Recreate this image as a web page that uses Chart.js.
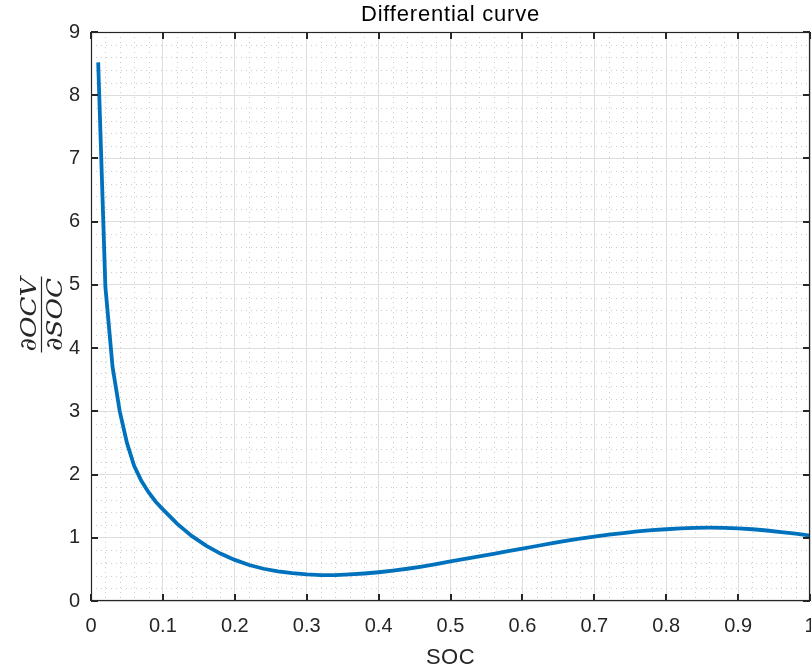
<!DOCTYPE html>
<html>
<head>
<meta charset="utf-8">
<title>Differential curve</title>
<script src="https://cdn.jsdelivr.net/npm/chart.js@4"></script>
<style>
    html, body { margin: 0; padding: 0; background: #fff; overflow: hidden; }
    #wrap { position: relative; width: 811px; height: 672px; }
    #diff-chart { display: block; }
</style>
</head>
<body>
<div id="wrap"><canvas id="diff-chart"></canvas></div>
<script>
// ================================================
// DIFFERENTIAL CURVE  dOCV/dSOC vs SOC
// ================================================

const socValues = [
    0.01, 0.02, 0.03, 0.04, 0.05, 0.06, 0.07, 0.08, 0.09, 0.10,
    0.12, 0.14, 0.16, 0.18, 0.20, 0.22, 0.24, 0.26, 0.28, 0.30,
    0.32, 0.34, 0.36, 0.38, 0.40, 0.42, 0.44, 0.46, 0.48, 0.50,
    0.52, 0.54, 0.56, 0.58, 0.60, 0.62, 0.64, 0.66, 0.68, 0.70,
    0.72, 0.74, 0.76, 0.78, 0.80, 0.82, 0.84, 0.86, 0.88, 0.90,
    0.92, 0.94, 0.96, 0.98, 1.00
];
const dOcvValues = [
    8.52, 4.97, 3.70, 3.00, 2.50, 2.14, 1.90, 1.72, 1.57, 1.45,
    1.22, 1.03, 0.875, 0.75, 0.65, 0.57, 0.51, 0.47, 0.44, 0.42,
    0.41, 0.41, 0.42, 0.435, 0.455, 0.48, 0.51, 0.545, 0.585, 0.625,
    0.665, 0.705, 0.745, 0.79, 0.83, 0.87, 0.91, 0.95, 0.985, 1.02,
    1.05, 1.075, 1.10, 1.12, 1.135, 1.15, 1.158, 1.16, 1.158, 1.15,
    1.135, 1.115, 1.09, 1.065, 1.035
];

const xTicks = { min: 0, max: 1, step: 0.1, minorPerMajor: 5 };
const yTicks = { min: 0, max: 9, step: 1, minorPerMajor: 5 };

const titleText = 'Differential curve';
const xLabelText = 'SOC';
const yLabelTop = '\u2202OCV';
const yLabelBottom = '\u2202SOC';

const AXIS_COLOR = '#262626';
const SANS = '"Liberation Sans", Arial, Helvetica, sans-serif';

/**
 * MATLAB-STYLE DECORATIONS (minor grid, box, inward ticks, labels)
 */
const matlabAxes = {
    id: 'matlabAxes',
    beforeDatasetsDraw(chart) {
        const { ctx, chartArea: a, scales } = chart;
        const xs = scales.x, ys = scales.y;
        ctx.save();
        ctx.strokeStyle = '#cccccc';
        ctx.lineWidth = 1;
        ctx.setLineDash([1, 4]);
        // minor vertical lines
        const nx = Math.round((xTicks.max - xTicks.min) / xTicks.step) * xTicks.minorPerMajor;
        for (let i = 1; i < nx; i++) {
            if (i % xTicks.minorPerMajor === 0) continue;
            const px = Math.round(xs.getPixelForValue(xTicks.min + i * xTicks.step / xTicks.minorPerMajor)) + 0.5;
            ctx.beginPath();
            ctx.moveTo(px, a.top);
            ctx.lineTo(px, a.bottom);
            ctx.stroke();
        }
        // minor horizontal lines
        const ny = Math.round((yTicks.max - yTicks.min) / yTicks.step) * yTicks.minorPerMajor;
        for (let i = 1; i < ny; i++) {
            if (i % yTicks.minorPerMajor === 0) continue;
            const py = Math.round(ys.getPixelForValue(yTicks.min + i * yTicks.step / yTicks.minorPerMajor)) + 0.5;
            ctx.beginPath();
            ctx.moveTo(a.left, py);
            ctx.lineTo(a.right, py);
            ctx.stroke();
        }
        ctx.restore();
    },
    afterDatasetsDraw(chart) {
        const { ctx, chartArea: a, scales } = chart;
        const xs = scales.x, ys = scales.y;
        ctx.save();

        // box
        ctx.strokeStyle = AXIS_COLOR;
        ctx.lineWidth = 1.2;
        ctx.strokeRect(a.left + 0.5, a.top + 0.5, a.right - a.left - 1, a.bottom - a.top - 1);

        // inward ticks
        const tl = 7;
        ctx.lineWidth = 2;
        ctx.beginPath();
        xs.ticks.forEach(t => {
            const px = Math.round(xs.getPixelForValue(t.value));
            ctx.moveTo(px, a.bottom); ctx.lineTo(px, a.bottom - tl);
            ctx.moveTo(px, a.top); ctx.lineTo(px, a.top + tl);
        });
        ys.ticks.forEach(t => {
            const py = Math.round(ys.getPixelForValue(t.value));
            ctx.moveTo(a.left, py); ctx.lineTo(a.left + tl, py);
            ctx.moveTo(a.right, py); ctx.lineTo(a.right - tl, py);
        });
        ctx.stroke();

        const cx = (a.left + a.right) / 2;
        const cy = (a.top + a.bottom) / 2;

        // title
        ctx.fillStyle = '#000';
        ctx.font = '22px ' + SANS;
        ctx.textAlign = 'center';
        ctx.textBaseline = 'alphabetic';
        ctx.letterSpacing = '0.8px';
        ctx.fillText(titleText, cx, 21);

        // x label
        ctx.fillStyle = AXIS_COLOR;
        ctx.letterSpacing = '0.5px';
        ctx.fillText(xLabelText, cx, 664);
        ctx.letterSpacing = '0px';

        // y label: fraction, rotated
        ctx.translate(41, cy - 2);
        ctx.rotate(-Math.PI / 2);
        ctx.font = 'italic 23px "DejaVu Serif", "Liberation Serif", serif';
        const w = Math.max(ctx.measureText(yLabelTop).width, ctx.measureText(yLabelBottom).width);
        const sx = 74 / w;
        ctx.save();
        ctx.scale(sx, 1);
        ctx.fillText(yLabelTop, 0, -5);
        ctx.fillText(yLabelBottom, 0, 21);
        ctx.restore();
        ctx.lineWidth = 1.2;
        ctx.beginPath();
        ctx.moveTo(-38, 0.5);
        ctx.lineTo(38, 0.5);
        ctx.stroke();

        ctx.restore();
    }
};

/**
 * INITIALIZE CHART
 */
function initChart() {
    const points = socValues.map((s, i) => ({ x: s, y: dOcvValues[i] }));
    const ctx = document.getElementById('diff-chart').getContext('2d');

    new Chart(ctx, {
        type: 'line',
        data: {
            datasets: [{
                label: 'dOCV/dSOC',
                data: points,
                borderColor: '#0072BD',
                borderWidth: 3.8,
                pointRadius: 0,
                tension: 0,
                fill: false
            }]
        },
        options: {
            responsive: true,
            maintainAspectRatio: false,
            devicePixelRatio: 1,
            animation: false,
            layout: {
                autoPadding: false,
                padding: { top: 32, right: 1, left: 0, bottom: 0 }
            },
            plugins: {
                legend: { display: false },
                title: { display: false },
                tooltip: { enabled: false }
            },
            scales: {
                x: {
                    type: 'linear',
                    min: xTicks.min,
                    max: xTicks.max,
                    afterFit: scale => {
                        scale.height = 71;
                        scale.paddingLeft = 0;
                        scale.paddingRight = 0;
                    },
                    border: { display: false },
                    grid: { color: '#dedede', lineWidth: 1, drawTicks: false },
                    ticks: {
                        stepSize: xTicks.step,
                        padding: 13,
                        color: AXIS_COLOR,
                        font: { family: SANS, size: 20 },
                        maxRotation: 0,
                        callback: v => String(Number(v.toFixed(1)))
                    }
                },
                y: {
                    type: 'linear',
                    min: yTicks.min,
                    max: yTicks.max,
                    afterFit: scale => {
                        scale.width = 91;
                        scale.paddingTop = 0;
                        scale.paddingBottom = 0;
                    },
                    border: { display: false },
                    grid: { color: '#dedede', lineWidth: 1, drawTicks: false },
                    ticks: {
                        stepSize: yTicks.step,
                        padding: 11,
                        color: AXIS_COLOR,
                        font: { family: SANS, size: 20 },
                        callback: v => String(v)
                    }
                }
            }
        },
        plugins: [matlabAxes]
    });
}

document.addEventListener('DOMContentLoaded', initChart);
</script>
</body>
</html>
